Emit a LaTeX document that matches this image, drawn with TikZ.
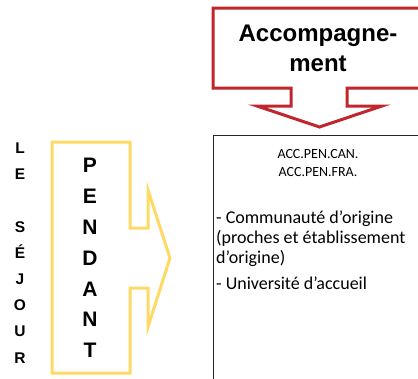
\documentclass[tikz,border=0pt]{standalone}
\usepackage{fontspec}
\setmainfont{Liberation Sans}
\newfontfamily\boxfont{Carlito}
\definecolor{accred}{HTML}{C0262C}
\definecolor{penyellow}{HTML}{FFD966}
\begin{document}
\begin{tikzpicture}[x=1pt,y=-1pt,
  big/.style={font=\bfseries\fontsize{24}{30}\selectfont,align=center},
  vertbig/.style={font=\bfseries\fontsize{21}{30.8}\selectfont,align=center,inner sep=0pt},
  vertsmall/.style={font=\bfseries\fontsize{15.5}{26.2}\selectfont,align=center,inner sep=0pt},
  small/.style={font=\boxfont\fontsize{14}{18}\selectfont,align=center},
  body/.style={font=\boxfont\fontsize{18}{20}\selectfont,align=left,anchor=west,inner sep=0pt}]
\clip(0,0)rectangle(418,378);
\fill[white](0,0)rectangle(418,378);
% red callout
\draw[accred,line width=3pt,line join=miter](213,8)--(440,8)--(440,88)--(347,88)--(347,106)--(382,106)
  --(319.5,127)--(257,106)--(291,106)--(291,88)--(213,88)--cycle;
\node[big](acc)at(318,48){Accompagne-\\ment};
% box
\draw[black!85,line width=1pt](440,135)--(213,135)--(213,400);
\node[small](codes)at(318,163){ACC.PEN.CAN.\\ACC.PEN.FRA.};
\node[body](list)at(216,250){- Communauté d’origine\\(proches et établissement\\d’origine)\\[6pt]- Université d’accueil};
% yellow arrow
\draw[penyellow,line width=3pt,line join=miter](52,142)--(130,142)--(130,228)--(148,228)--(148,190)
  --(170,258)--(148,327)--(148,288)--(130,288)--(130,373)--(52,373)--cycle;
\node[vertbig](pendant)at(90,258){P\\E\\N\\D\\A\\N\\T};
\node[vertsmall](sejour)at(20,253){L\\E\\ \\S\\É\\J\\O\\U\\R};
\end{tikzpicture}
\end{document}
